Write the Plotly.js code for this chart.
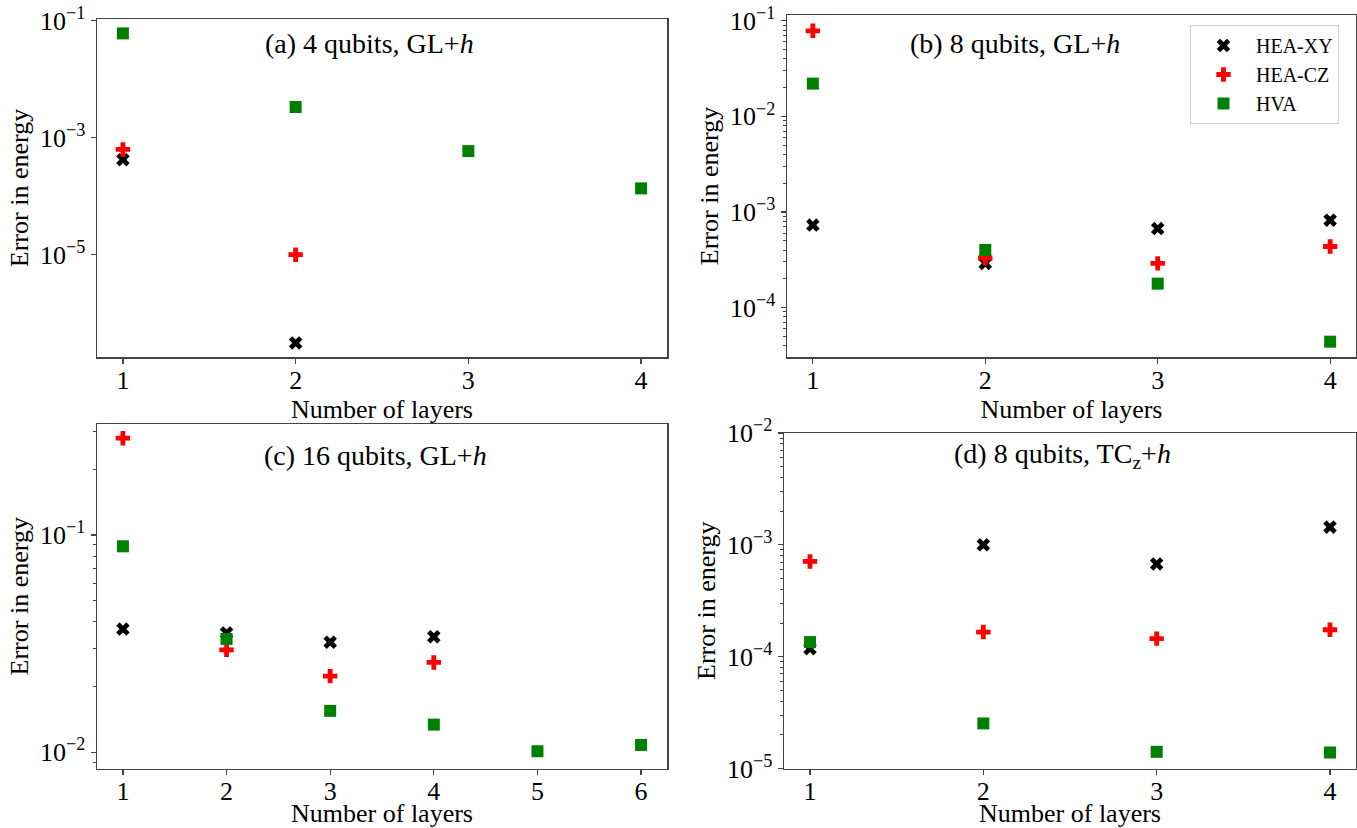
<!DOCTYPE html>
<html>
<head>
<meta charset="utf-8">
<script src="https://cdn.plot.ly/plotly-3.0.1.min.js"></script>
<style>html,body{margin:0;padding:0;background:#fff;}#chart{width:1357px;height:828px;}</style>
</head>
<body>
<div id="chart"></div>
<script>
// ---- data ----
const seriesNames = ["HEA-XY", "HEA-CZ", "HVA"];
const panelTitles = [
  "(a) 4 qubits, GL+<i>h</i>",
  "(b) 8 qubits, GL+<i>h</i>",
  "(c) 16 qubits, GL+<i>h</i>",
  "(d) 8 qubits, TC<sub>z</sub>+<i>h</i>"
];
// (a) 4 qubits, GL+h
const aLayersXY = [1, 2];
const aXY = [4.2e-4, 3.1e-7];
const aLayersCZ = [1, 2];
const aCZ = [6.3e-4, 1.0e-5];
const aLayersHVA = [1, 2, 3, 4];
const aHVA = [0.0607, 3.35e-3, 5.9e-4, 1.36e-4];
// (b) 8 qubits, GL+h
const bLayers = [1, 2, 3, 4];
const bXY = [7.3e-4, 2.9e-4, 6.7e-4, 8.2e-4];
const bCZ = [0.0785, 3.3e-4, 2.9e-4, 4.35e-4];
const bHVA = [0.022, 4.0e-4, 1.78e-4, 4.4e-5];
// (c) 16 qubits, GL+h
const cLayersXY = [1, 2, 3, 4];
const cXY = [0.0369, 0.0354, 0.0321, 0.034];
const cLayersCZ = [1, 2, 3, 4];
const cCZ = [0.279, 0.0296, 0.0224, 0.0259];
const cLayersHVA = [1, 2, 3, 4, 5, 6];
const cHVA = [0.0887, 0.0332, 0.0155, 0.0134, 0.0101, 0.0108];
// (d) 8 qubits, TCz+h
const dLayers = [1, 2, 3, 4];
const dXY = [1.18e-4, 1.0e-3, 6.75e-4, 1.44e-3];
const dCZ = [7.1e-4, 1.66e-4, 1.45e-4, 1.74e-4];
const dHVA = [1.35e-4, 2.53e-5, 1.41e-5, 1.39e-5];

// tick labels
const aTickVals = [1e-5, 1e-3, 1e-1];
const aTickText = ["10<sup>−5</sup>", "10<sup>−3</sup>", "10<sup>−1</sup>"];
const bTickVals = [1e-4, 1e-3, 1e-2, 1e-1];
const bTickText = ["10<sup>−4</sup>", "10<sup>−3</sup>", "10<sup>−2</sup>", "10<sup>−1</sup>"];
const cTickVals = [1e-2, 1e-1];
const cTickText = ["10<sup>−2</sup>", "10<sup>−1</sup>"];
const dTickVals = [1e-5, 1e-4, 1e-3, 1e-2];
const dTickText = ["10<sup>−5</sup>", "10<sup>−4</sup>", "10<sup>−3</sup>", "10<sup>−2</sup>"];
const xLabel = "Number of layers";
const yLabel = "Error in energy";

// ---- styling ----
const FONT = "Liberation Serif, Times New Roman, serif";
const FS = 26;
const AX = "#444";
const styles = [
  {symbol: "x", color: "#000000", size: 12},
  {symbol: "cross", color: "#ff0000", size: 12},
  {symbol: "square", color: "#008000", size: 12}
];

function minorTicks(lo, hi) {
  const out = [];
  for (let e = lo; e <= hi; e++) {
    for (let m = 2; m <= 9; m++) out.push(m * Math.pow(10, e));
  }
  return out;
}

function tr(x, y, s, ax, showLegend) {
  const st = styles[s];
  return {
    type: "scatter", mode: "markers", x: x, y: y, name: seriesNames[s],
    xaxis: "x" + (ax === 1 ? "" : ax), yaxis: "y" + (ax === 1 ? "" : ax),
    showlegend: showLegend,
    marker: {symbol: st.symbol, color: st.color, size: st.size, line: {width: 0}},
    hoverinfo: "x+y+name"
  };
}

const data = [
  tr(aLayersXY, aXY, 0, 1, false), tr(aLayersCZ, aCZ, 1, 1, false), tr(aLayersHVA, aHVA, 2, 1, false),
  tr(bLayers, bXY, 0, 2, true), tr(bLayers, bCZ, 1, 2, true), tr(bLayers, bHVA, 2, 2, true),
  tr(cLayersXY, cXY, 0, 3, false), tr(cLayersCZ, cCZ, 1, 3, false), tr(cLayersHVA, cHVA, 2, 3, false),
  tr(dLayers, dXY, 0, 4, false), tr(dLayers, dCZ, 1, 4, false), tr(dLayers, dHVA, 2, 4, false)
];

const W = 1357, H = 828;
function xd(l, r) { return [l / W, r / W]; }
function yd(top, bot) { return [1 - bot / H, 1 - top / H]; }

function xaxis(dom, range, ticks, anchor) {
  return {
    domain: dom, range: range, anchor: anchor,
    tickmode: "array", tickvals: ticks, ticktext: ticks.map(String),
    ticks: "outside", ticklen: 5, tickwidth: 1.2, tickcolor: AX,
    ticklabelstandoff: -6,
    showline: true, linecolor: AX, linewidth: 1.5, mirror: true,
    showgrid: false, zeroline: false,
    tickfont: {family: FONT, size: FS, color: "#000"},
    title: {text: xLabel, font: {family: FONT, size: FS, color: "#000"}, standoff: 0}
  };
}
function yaxis(dom, range, tv, tt, minor, anchor) {
  const ax = {
    domain: dom, type: "log", range: range, anchor: anchor,
    tickmode: "array", tickvals: tv, ticktext: tt,
    ticks: "outside", ticklen: 5, tickwidth: 1.2, tickcolor: AX,
    showline: true, linecolor: AX, linewidth: 1.5, mirror: true,
    showgrid: false, zeroline: false,
    tickfont: {family: FONT, size: FS, color: "#000"},
    title: {text: yLabel, font: {family: FONT, size: FS, color: "#000"}, standoff: 4}
  };
  if (minor) {
    ax.minor = {tickmode: "array", tickvals: minor, ticks: "outside", ticklen: 3, tickwidth: 1, tickcolor: AX, showgrid: false};
  }
  return ax;
}

const layout = {
  width: W, height: H,
  margin: {l: 0, r: 0, t: 0, b: 0},
  paper_bgcolor: "#fff", plot_bgcolor: "#fff",
  font: {family: FONT, color: "#000"},
  showlegend: true,
  legend: {
    x: 1190 / W, y: 1 - 25 / H, xanchor: "left", yanchor: "top",
    bgcolor: "#fff", bordercolor: "#d0d0d0", borderwidth: 1,
    font: {family: FONT, size: 20, color: "#000"},
    itemwidth: 55, tracegroupgap: 0
  },
  xaxis:  xaxis(xd(97, 667), [0.85, 4.15], [1, 2, 3, 4], "y"),
  yaxis:  yaxis(yd(19, 357), [-6.749, -0.971], aTickVals, aTickText, null, "x"),
  xaxis2: xaxis(xd(787, 1356), [0.85, 4.15], [1, 2, 3, 4], "y2"),
  yaxis2: yaxis(yd(15, 357), [-4.517, -0.94], bTickVals, bTickText, minorTicks(-5, -1), "x2"),
  xaxis3: xaxis(xd(97, 667), [0.75, 6.25], [1, 2, 3, 4, 5, 6], "y3"),
  yaxis3: yaxis(yd(424, 768.5), [-2.075, -0.489], cTickVals, cTickText, minorTicks(-3, -1), "x3"),
  xaxis4: xaxis(xd(784, 1356), [0.85, 4.15], [1, 2, 3, 4], "y4"),
  yaxis4: yaxis(yd(433, 768.5), [-5, -2], dTickVals, dTickText, minorTicks(-5, -3), "x4"),
  annotations: [
    {text: panelTitles[0], x: 369 / W, y: 1 - 43 / H},
    {text: panelTitles[1], x: 1015 / W, y: 1 - 43 / H},
    {text: panelTitles[2], x: 375 / W, y: 1 - 455 / H},
    {text: panelTitles[3], x: 1062 / W, y: 1 - 455 / H}
  ].map(a => Object.assign(a, {xref: "paper", yref: "paper", xanchor: "center", yanchor: "middle", showarrow: false,
    font: {family: FONT, size: 28, color: "#000"}}))
};

Plotly.newPlot("chart", data, layout, {displayModeBar: false, staticPlot: true});
</script>
</body>
</html>
